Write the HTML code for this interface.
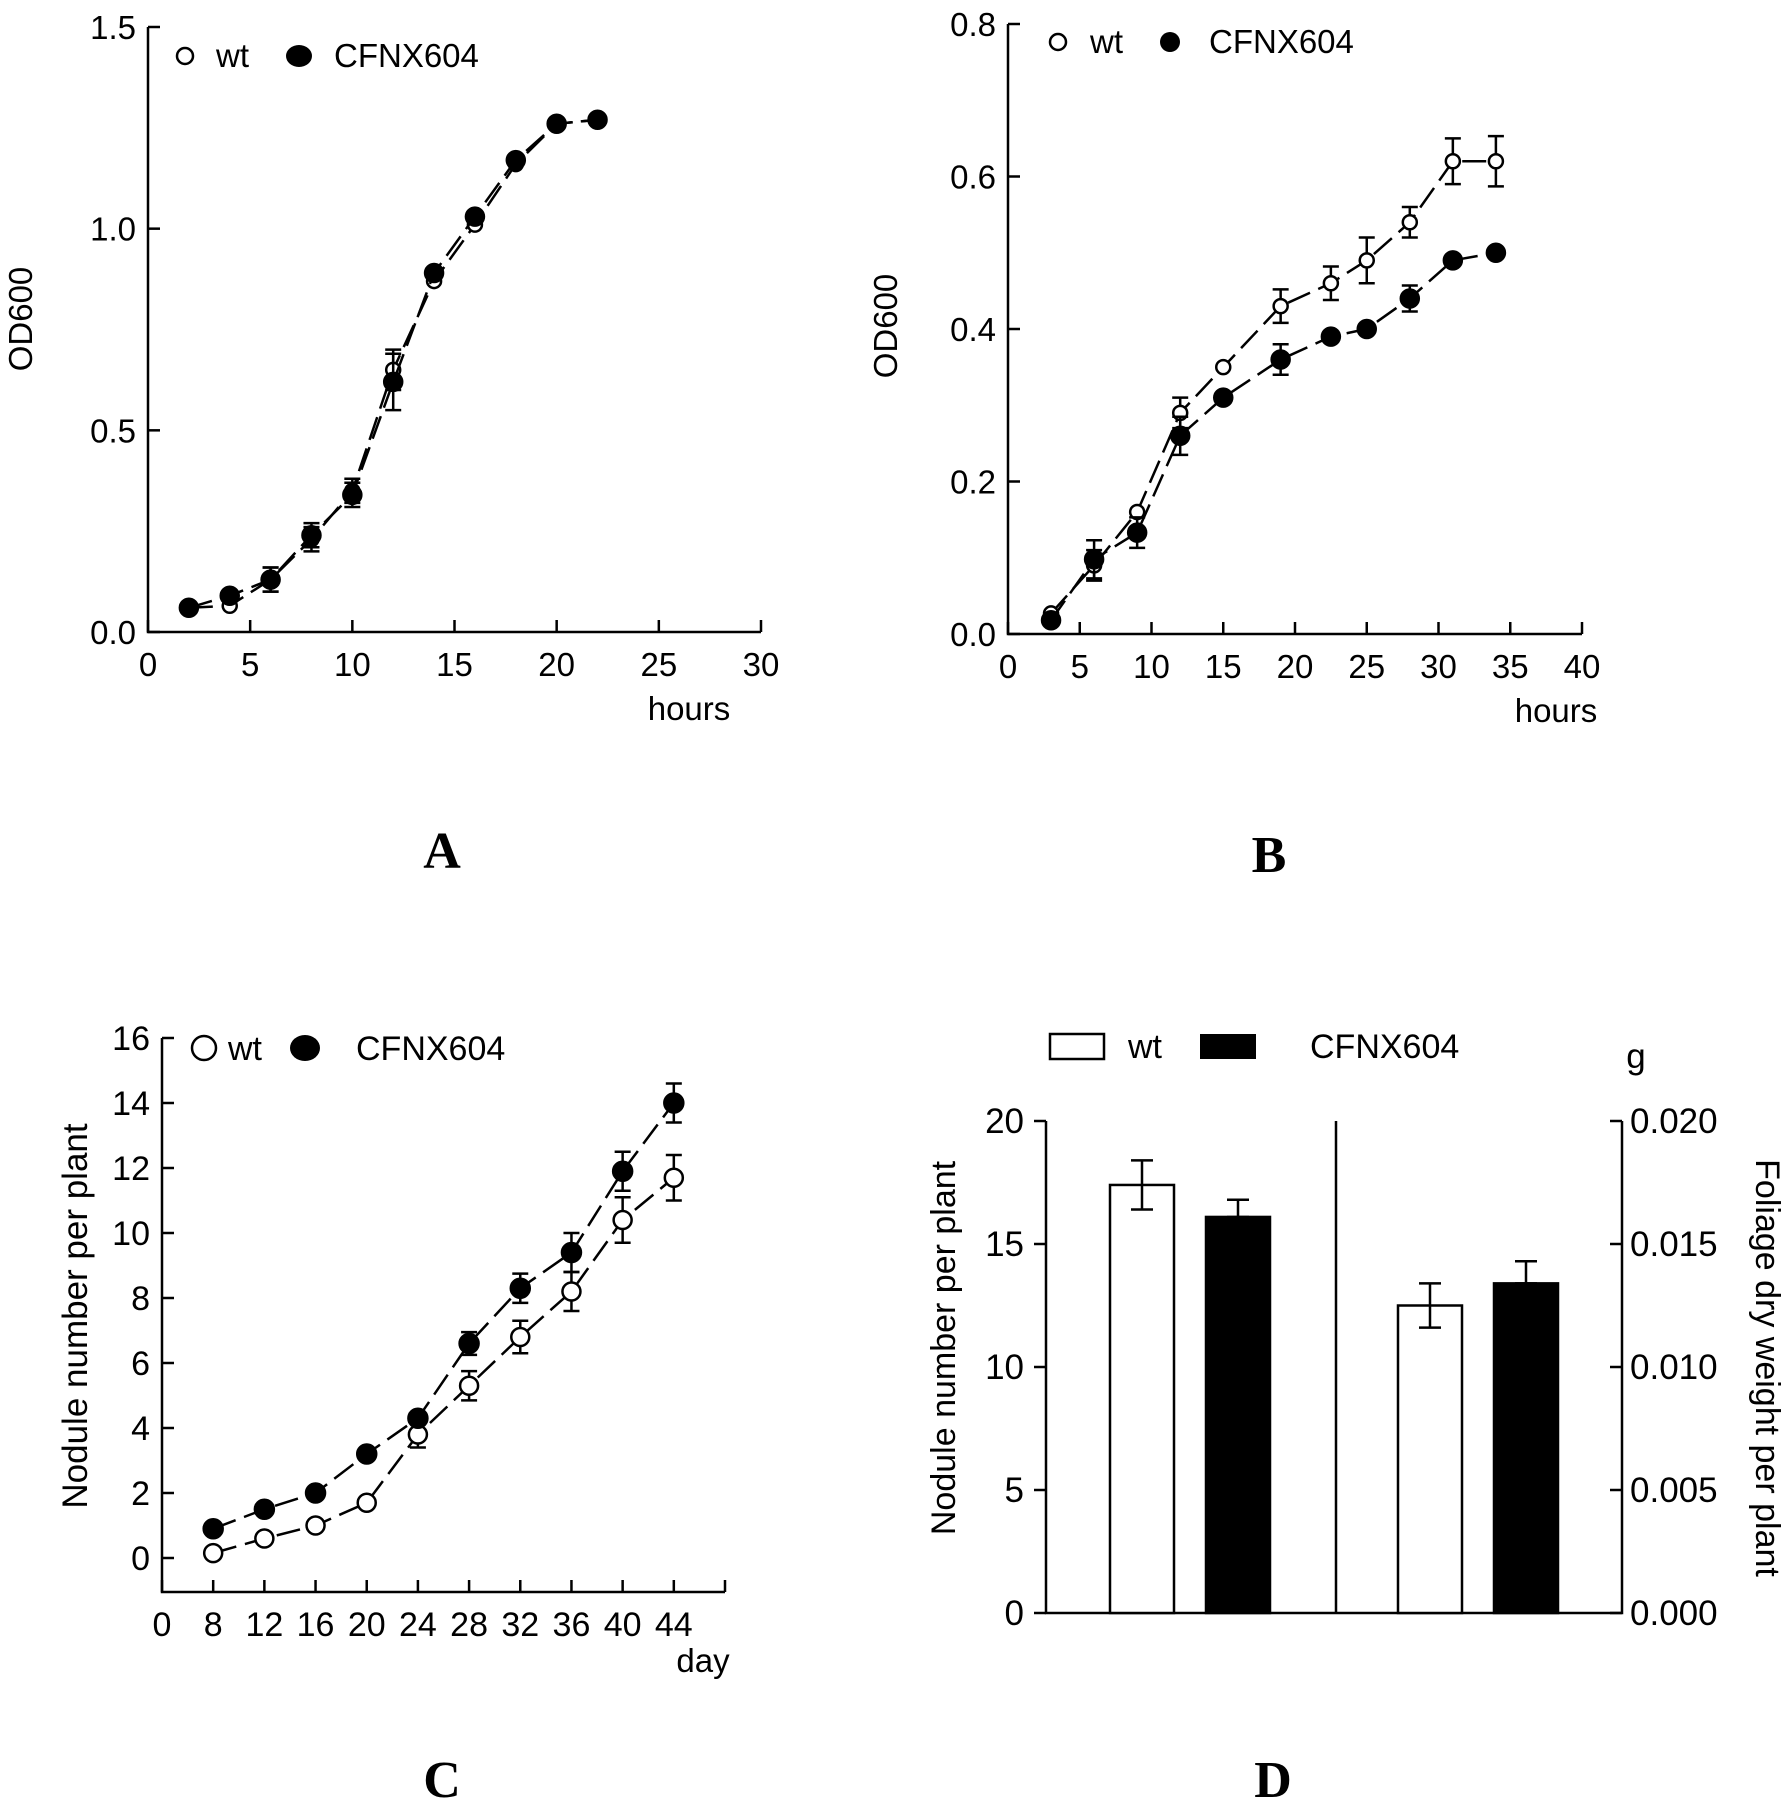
<!DOCTYPE html>
<html><head><meta charset="utf-8"><style>
html,body{margin:0;padding:0;background:#fff}
svg{display:block;font-family:"Liberation Sans",sans-serif}
</style></head><body>
<svg id="fig" width="1789" height="1800" viewBox="0 0 1789 1800" xmlns="http://www.w3.org/2000/svg"></svg>
<script>
// ---- Panel A data ----
const aHours = [2,4,6,8,10,12,14,16,18,20,22];
const aWt = [0.06,0.065,0.13,0.23,0.35,0.65,0.87,1.01,1.16,1.26,1.27];
const aWtErr = [0,0,0.03,0.03,0.03,0.05,0,0,0,0,0];
const aMut = [0.06,0.09,0.13,0.24,0.34,0.62,0.89,1.03,1.17,1.26,1.27];
const aMutErr = [0,0,0.03,0.03,0.03,0.07,0,0,0,0,0];
const aXTicks = [0,5,10,15,20,25,30];
const aYTicks = [0,0.5,1.0,1.5];
const aYLabels = ["0.0","0.5","1.0","1.5"];
// ---- Panel B data ----
const bHours = [3,6,9,12,15,19,22.5,25,28,31,34];
const bWt = [0.027,0.09,0.16,0.29,0.35,0.43,0.46,0.49,0.54,0.62,0.62];
const bWtErr = [0,0.02,0,0.02,0,0.022,0.022,0.03,0.02,0.03,0.033];
const bMut = [0.018,0.098,0.133,0.26,0.31,0.36,0.39,0.40,0.44,0.49,0.50];
const bMutErr = [0,0.025,0.02,0.025,0,0.02,0,0,0.017,0,0];
const bXTicks = [0,5,10,15,20,25,30,35,40];
const bYTicks = [0,0.2,0.4,0.6,0.8];
const bYLabels = ["0.0","0.2","0.4","0.6","0.8"];
// ---- Panel C data ----
const cDays = [8,12,16,20,24,28,32,36,40,44];
const cWt = [0.15,0.6,1.0,1.7,3.8,5.3,6.8,8.2,10.4,11.7];
const cWtErr = [0,0,0,0,0.4,0.45,0.5,0.6,0.7,0.7];
const cMut = [0.9,1.5,2.0,3.2,4.3,6.6,8.3,9.4,11.9,14.0];
const cMutErr = [0,0,0,0,0,0.35,0.45,0.6,0.6,0.6];
const cXTicks = [4,8,12,16,20,24,28,32,36,40,44,48];
const cXLabels = ["0","8","12","16","20","24","28","32","36","40","44",""];
const cYTicks = [0,2,4,6,8,10,12,14,16];
// ---- Panel D data ----
const dNodule = [17.4, 16.1];
const dNoduleErr = [1.0, 0.7];
const dFoliage = [0.0125, 0.0134];
const dFoliageErr = [0.0009, 0.0009];
const dLeftTicks = [0,5,10,15,20];
const dRightTicks = [0,0.005,0.010,0.015,0.020];
const dRightLabels = ["0.000","0.005","0.010","0.015","0.020"];

const NS = "http://www.w3.org/2000/svg";
const svg = document.getElementById('fig');
function mk(tag, attrs, parent, text){
  const e = document.createElementNS(NS, tag);
  for (const k in attrs) e.setAttribute(k, attrs[k]);
  if (text !== undefined) e.textContent = text;
  (parent||svg).appendChild(e);
  return e;
}
function linScale(d0,d1,r0,r1){ return v => r0 + (v-d0)/(d1-d0)*(r1-r0); }

function errBar(g, x, y1, y2, cap, name){
  const e = mk('path',{d:`M${x},${y1}V${y2}M${x-cap},${y1}H${x+cap}M${x-cap},${y2}H${x+cap}`,stroke:'#000','stroke-width':2.5,fill:'none'},g);
  
  
}

function linePanel(cfg){
  const g = mk('g',{});
  
  
  const X = linScale(cfg.xd[0],cfg.xd[1],cfg.x0,cfg.x1);
  const Y = linScale(cfg.yd[0],cfg.yd[1],cfg.y0,cfg.y1);
  const ax = mk('path',{d:`M${cfg.x0},${cfg.y1}V${cfg.axisY}H${cfg.x1}`,stroke:'#000','stroke-width':2.5,fill:'none'},g);
  
  
  cfg.yTicks.forEach((t,i)=>{
    const y = Y(t);
    mk('line',{x1:cfg.x0,x2:cfg.x0+12,y1:y,y2:y,stroke:'#000','stroke-width':2.5},g);
    const tl = mk('text',{x:cfg.x0-12,y:y+12,'text-anchor':'end','font-size':cfg.fs},g,cfg.yLabels[i]);
    
    
  });
  cfg.xTicks.forEach((t,i)=>{
    const x = X(t);
    mk('line',{x1:x,x2:x,y1:cfg.axisY,y2:cfg.axisY-12,stroke:'#000','stroke-width':2.5},g);
    const tl = mk('text',{x:x,y:cfg.axisY+44,'text-anchor':'middle','font-size':cfg.fs},g,cfg.xLabels[i]);
    
    
  });
  cfg.series.forEach(s=>{
    const pts = cfg.xs.map((v,i)=>[X(v),Y(s.vals[i])]);
    const ln = mk('polyline',{points:pts.map(p=>p.join(',')).join(' '),fill:'none',stroke:'#000','stroke-width':2.5,'stroke-dasharray':'24,9'},g);
    
    
    s.err.forEach((e,i)=>{
      if (e>0) errBar(g, pts[i][0], Y(s.vals[i]+e), Y(s.vals[i]-e), 8, s.name+'-error-bar');
    });
    pts.forEach(p=>{
      const c = mk('circle',{cx:p[0],cy:p[1],r:s.r,fill:s.filled?'#000':'#fff',stroke:'#000','stroke-width':2.5},g);
      
      
    });
  });
  return g;
}
function txt(x,y,s,attrs,name){
  const t = mk('text',Object.assign({x:x,y:y},attrs||{}),svg,s);
  
  
  return t;
}

// Panel A
linePanel({name:'panel-a',xd:[0,30],yd:[0,1.5],x0:148,x1:761,y0:632,y1:27,axisY:632,fs:33,
  xTicks:aXTicks,xLabels:aXTicks.map(String),yTicks:aYTicks,yLabels:aYLabels,xs:aHours,
  series:[{name:'a-wt',vals:aWt,err:aWtErr,r:7,filled:false},{name:'a-cfnx604',vals:aMut,err:aMutErr,r:9,filled:true}]});
txt(20,319,'OD600',{'font-size':33,'text-anchor':'middle',transform:'rotate(-90 20 319)',dy:12},'a-y-axis-title');
txt(689,720,'hours',{'font-size':33,'text-anchor':'middle'},'a-x-axis-title');
mk('circle',{cx:185,cy:56,r:8,fill:'#fff',stroke:'#000','stroke-width':2.5});
txt(216,67,'wt',{'font-size':33},'a-legend-wt');
mk('ellipse',{cx:299,cy:56,rx:13,ry:11,fill:'#000'});
txt(334,67,'CFNX604',{'font-size':33},'a-legend-cfnx604');
txt(442,868,'A',{'font-size':52,'font-weight':'bold','text-anchor':'middle','font-family':'Liberation Serif, serif'},'panel-a-label');

// Panel B
linePanel({name:'panel-b',xd:[0,40],yd:[0,0.8],x0:1008,x1:1582,y0:634,y1:24,axisY:634,fs:33,
  xTicks:bXTicks,xLabels:bXTicks.map(String),yTicks:bYTicks,yLabels:bYLabels,xs:bHours,
  series:[{name:'b-wt',vals:bWt,err:bWtErr,r:7,filled:false},{name:'b-cfnx604',vals:bMut,err:bMutErr,r:9,filled:true}]});
txt(885,326,'OD600',{'font-size':33,'text-anchor':'middle',transform:'rotate(-90 885 326)',dy:12},'b-y-axis-title');
txt(1556,722,'hours',{'font-size':33,'text-anchor':'middle'},'b-x-axis-title');
mk('circle',{cx:1058,cy:42,r:8,fill:'#fff',stroke:'#000','stroke-width':2.5});
txt(1090,53,'wt',{'font-size':33},'b-legend-wt');
mk('circle',{cx:1170,cy:42,r:10,fill:'#000'});
txt(1209,53,'CFNX604',{'font-size':33},'b-legend-cfnx604');
txt(1269,872,'B',{'font-size':52,'font-weight':'bold','text-anchor':'middle','font-family':'Liberation Serif, serif'},'panel-b-label');

// Panel C
linePanel({name:'panel-c',xd:[4,48],yd:[0,16],x0:162,x1:725,y0:1558,y1:1038,axisY:1592,fs:34,
  xTicks:cXTicks,xLabels:cXLabels,yTicks:cYTicks,yLabels:cYTicks.map(String),xs:cDays,
  series:[{name:'c-wt',vals:cWt,err:cWtErr,r:9,filled:false},{name:'c-cfnx604',vals:cMut,err:cMutErr,r:9.5,filled:true}]});
txt(75,1316,'Nodule number per plant',{'font-size':35,'text-anchor':'middle',transform:'rotate(-90 75 1316)',dy:12},'c-y-axis-title');
txt(703,1672,'day',{'font-size':33,'text-anchor':'middle'},'c-x-axis-title');
mk('circle',{cx:204,cy:1048,r:12,fill:'#fff',stroke:'#000','stroke-width':2.5});
txt(228,1060,'wt',{'font-size':34},'c-legend-wt');
mk('ellipse',{cx:305,cy:1048,rx:15,ry:13,fill:'#000'});
txt(356,1060,'CFNX604',{'font-size':34},'c-legend-cfnx604');
txt(442,1797,'C',{'font-size':52,'font-weight':'bold','text-anchor':'middle','font-family':'Liberation Serif, serif'},'panel-c-label');

// Panel D
(function(){
  const g = mk('g',{});
  
  
  const xL=1046, xR=1622, xM=1336, yB=1613, yT=1121;
  const YL = linScale(0,20,yB,yT);
  const YR = linScale(0,0.02,yB,yT);
  const ax = mk('path',{d:`M${xL},${yT}V${yB}H${xR}V${yT}M${xM},${yT}V${yB}`,stroke:'#000','stroke-width':2.5,fill:'none'},g);
  
  
  dLeftTicks.forEach(t=>{
    const y=YL(t);
    mk('line',{x1:xL-12,x2:xL,y1:y,y2:y,stroke:'#000','stroke-width':2.5},g);
    const tl = mk('text',{x:1024,y:y+12,'text-anchor':'end','font-size':35},g,String(t));
    
    
  });
  dRightTicks.forEach((t,i)=>{
    const y=YR(t);
    mk('line',{x1:xR-12,x2:xR,y1:y,y2:y,stroke:'#000','stroke-width':2.5},g);
    const tl = mk('text',{x:1630,y:y+12,'font-size':35},g,dRightLabels[i]);
    
    
  });
  const bw = 64;
  const groups = [
    {vals:dNodule, err:dNoduleErr, Y:YL, xs:[1110,1206], name:'nodule'},
    {vals:dFoliage, err:dFoliageErr, Y:YR, xs:[1398,1494], name:'foliage'}
  ];
  groups.forEach(gr=>{
    gr.vals.forEach((v,i)=>{
      const top = gr.Y(v);
      const r = mk('rect',{x:gr.xs[i],y:top,width:bw,height:yB-top,fill:i?'#000':'#fff',stroke:'#000','stroke-width':2.5},g);
      
      
      const cx = gr.xs[i]+bw/2;
      if (i===0) errBar(g, cx, gr.Y(v+gr.err[i]), gr.Y(v-gr.err[i]), 11, 'error-bar');
      else errBar(g, cx, gr.Y(v+gr.err[i]), top, 11, 'error-bar');
    });
  });
})();
txt(943,1348,'Nodule number per plant',{'font-size':34,'text-anchor':'middle',transform:'rotate(-90 943 1348)',dy:12},'d-left-y-axis-title');
txt(1768,1368,'Foliage dry weight per plant',{'font-size':34,'text-anchor':'middle',transform:'rotate(90 1768 1368)',dy:12},'d-right-y-axis-title');
txt(1636,1068,'g',{'font-size':35,'text-anchor':'middle'},'d-right-unit');
mk('rect',{x:1050,y:1034,width:54,height:25,fill:'#fff',stroke:'#000','stroke-width':2.5});
txt(1128,1058,'wt',{'font-size':34},'d-legend-wt');
mk('rect',{x:1200,y:1034,width:56,height:25,fill:'#000'});
txt(1310,1058,'CFNX604',{'font-size':34},'d-legend-cfnx604');
txt(1273,1797,'D',{'font-size':52,'font-weight':'bold','text-anchor':'middle','font-family':'Liberation Serif, serif'},'panel-d-label');
</script>
</body></html>
